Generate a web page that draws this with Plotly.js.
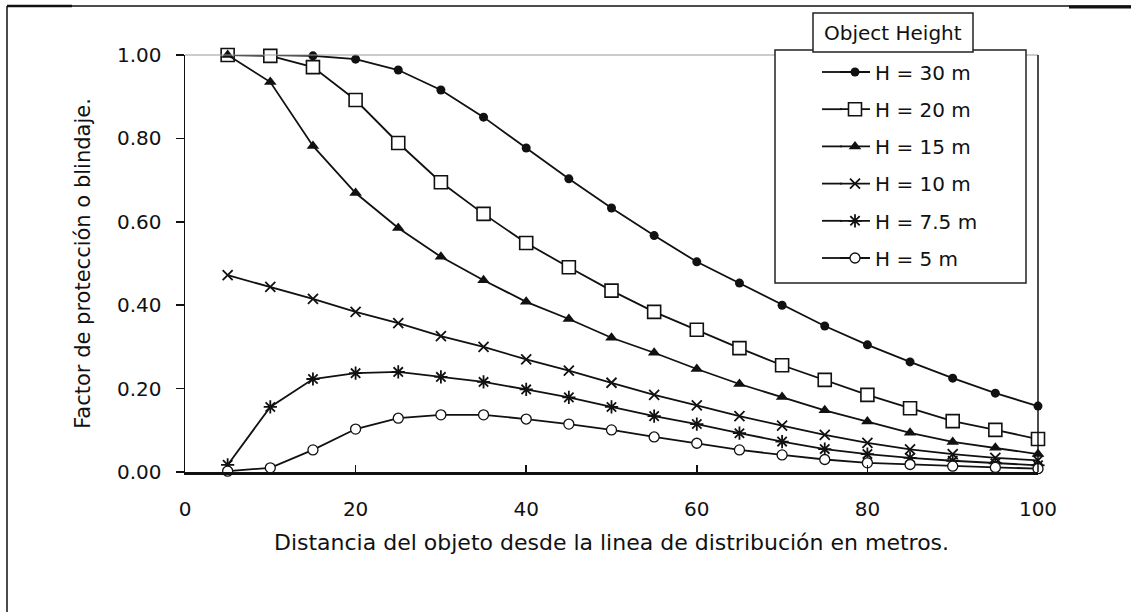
<!DOCTYPE html>
<html>
<head>
<meta charset="utf-8">
<script src="https://cdn.plot.ly/plotly-3.0.1.min.js"></script>
<style>html,body{margin:0;padding:0;background:#fff;}#chart{width:1131px;height:612px;}</style>
</head>
<body>
<div id="chart"></div>
<script>
// Distance of the object from the distribution line (m)
const distances = [5,10,15,20,25,30,35,40,45,50,55,60,65,70,75,80,85,90,95,100];
// Shielding factor per object height
const h30 = [1.000,1.000,0.998,0.990,0.964,0.916,0.851,0.777,0.703,0.633,0.567,0.504,0.453,0.400,0.350,0.305,0.264,0.225,0.189,0.158];
const h20 = [1.000,0.998,0.971,0.892,0.789,0.695,0.619,0.549,0.491,0.435,0.384,0.341,0.297,0.256,0.221,0.185,0.153,0.122,0.101,0.079];
const h15 = [1.000,0.935,0.782,0.669,0.585,0.516,0.460,0.408,0.367,0.322,0.286,0.247,0.211,0.180,0.148,0.121,0.094,0.072,0.058,0.043];
const h10 = [0.472,0.444,0.415,0.384,0.357,0.326,0.300,0.270,0.243,0.214,0.185,0.160,0.134,0.111,0.089,0.070,0.054,0.043,0.034,0.028];
const h75 = [0.017,0.156,0.223,0.237,0.240,0.228,0.216,0.198,0.179,0.156,0.134,0.115,0.093,0.073,0.055,0.043,0.034,0.027,0.021,0.016];
const h5  = [0.002,0.010,0.053,0.103,0.129,0.137,0.137,0.127,0.115,0.101,0.084,0.069,0.053,0.041,0.030,0.022,0.018,0.014,0.011,0.008];
const seriesNames = ["H = 30 m","H = 20 m","H = 15 m","H = 10 m","H = 7.5 m","H = 5 m"];
const xTickVals = [0,20,40,60,80,100];
const yTickVals = [0,0.2,0.4,0.6,0.8,1.0];
const legendTitle = "Object Height";
const xTitle = "Distancia del objeto desde la linea de distribución en metros.";
const yTitle = "Factor de protección o blindaje.";

const FONT = "DejaVu Sans, Liberation Sans, Arial, sans-serif";
const INK = "#111";
const lineStyle = {color: INK, width: 1.8};

const markers = [
  {symbol: "circle", size: 9, color: INK, line: {width: 0}},
  {symbol: "square", size: 13, color: "#fff", line: {color: INK, width: 1.6}},
  {symbol: "triangle-up", size: 11, color: INK, line: {width: 0}},
  {symbol: "x-thin", size: 10, color: INK, line: {color: INK, width: 1.8}},
  {symbol: "asterisk", size: 11, color: INK, line: {color: INK, width: 1.8}},
  {symbol: "circle", size: 10, color: "#fff", line: {color: INK, width: 1.3}}
];
const values = [h30, h20, h15, h10, h75, h5];

const traces = values.map((v, i) => ({
  type: "scatter",
  mode: "lines+markers",
  x: distances,
  y: v,
  name: seriesNames[i],
  legendgroup: "g" + i,
  line: lineStyle,
  marker: markers[i],
  cliponaxis: false
}));

// pixel -> paper helpers (plot area: x 185..1038, y 55..472)
const L = 185, R = 1038, T = 55, B = 472;
const px = p => (p - L) / (R - L);
const py = q => (B - q) / (B - T);

// legend sample line extensions (legend samples in the original are longer)
const legendRowsPx = [72, 109.2, 146.4, 183.6, 220.8, 258];
const legendExt = legendRowsPx.map(q => ({
  type: "line", xref: "paper", yref: "paper", x0: px(822), x1: px(842), y0: py(q), y1: py(q),
  line: {color: INK, width: 1.8}, layer: "above"
}));

const layout = {
  width: 1131, height: 612,
  margin: {l: L, r: 1131 - R, t: T, b: 612 - B, pad: 0},
  paper_bgcolor: "#fff", plot_bgcolor: "#fff",
  font: {family: FONT, color: INK, size: 20},
  showlegend: true,
  legend: {
    x: px(835), xanchor: "left", y: py(52.5), yanchor: "top",
    bgcolor: "rgba(0,0,0,0)", borderwidth: 0,
    tracegroupgap: 8.2,
    font: {family: FONT, size: 20, color: INK}
  },
  xaxis: {
    range: [0, 100], tickvals: xTickVals, ticktext: xTickVals.map(String),
    ticks: "inside", ticklen: 7, tickwidth: 1.5, tickcolor: INK,
    showline: true, linecolor: INK, linewidth: 2.5,
    showgrid: false, zeroline: false,
    ticklabelstandoff: 17,
    tickfont: {family: FONT, size: 20, color: INK},
    title: {text: xTitle, font: {family: FONT, size: 22, color: INK}, standoff: 15}
  },
  yaxis: {
    range: [0, 1], tickvals: yTickVals, tickformat: ".2f",
    ticks: "outside", ticklen: 8, tickwidth: 1.5, tickcolor: INK,
    showline: true, linecolor: INK, linewidth: 1.5,
    showgrid: false, zeroline: false,
    ticklabelstandoff: 10,
    tickfont: {family: FONT, size: 20, color: INK},
    title: {text: yTitle, font: {family: FONT, size: 21, color: INK}, standoff: 20}
  },
  shapes: [
    // plot top (grey) and right border
    {type: "line", xref: "paper", yref: "paper", x0: 0, x1: 1, y0: 1, y1: 1, line: {color: "#999", width: 1}},
    {type: "line", xref: "paper", yref: "paper", x0: 1, x1: 1, y0: 0, y1: 1, line: {color: INK, width: 1.5}},
    // legend box
    {type: "rect", xref: "paper", yref: "paper", x0: px(775), x1: px(1026), y0: py(283), y1: py(50),
     fillcolor: "#fff", line: {color: "#222", width: 1.5}, layer: "above"},
    // legend title box
    {type: "rect", xref: "paper", yref: "paper", x0: px(813), x1: px(973), y0: py(52), y1: py(13),
     fillcolor: "#fff", line: {color: "#222", width: 1.5}, layer: "above"},
    // outer frame
    {type: "line", xref: "paper", yref: "paper", x0: px(7), x1: px(1131), y0: py(6), y1: py(6), line: {color: INK, width: 1.5}},
    {type: "line", xref: "paper", yref: "paper", x0: px(7), x1: px(72), y0: py(6), y1: py(6), line: {color: INK, width: 2.5}},
    {type: "line", xref: "paper", yref: "paper", x0: px(1069), x1: px(1131), y0: py(7), y1: py(7), line: {color: INK, width: 3}},
    {type: "line", xref: "paper", yref: "paper", x0: px(7), x1: px(7), y0: py(6), y1: py(612), line: {color: INK, width: 1.5}}
  ].concat(legendExt),
  annotations: [
    {text: legendTitle, xref: "paper", yref: "paper", x: px(893), y: py(33), xanchor: "center", yanchor: "middle",
     showarrow: false, font: {family: FONT, size: 20, color: INK}}
  ]
};

Plotly.newPlot("chart", traces, layout, {displayModeBar: false, staticPlot: true});
</script>
</body>
</html>
